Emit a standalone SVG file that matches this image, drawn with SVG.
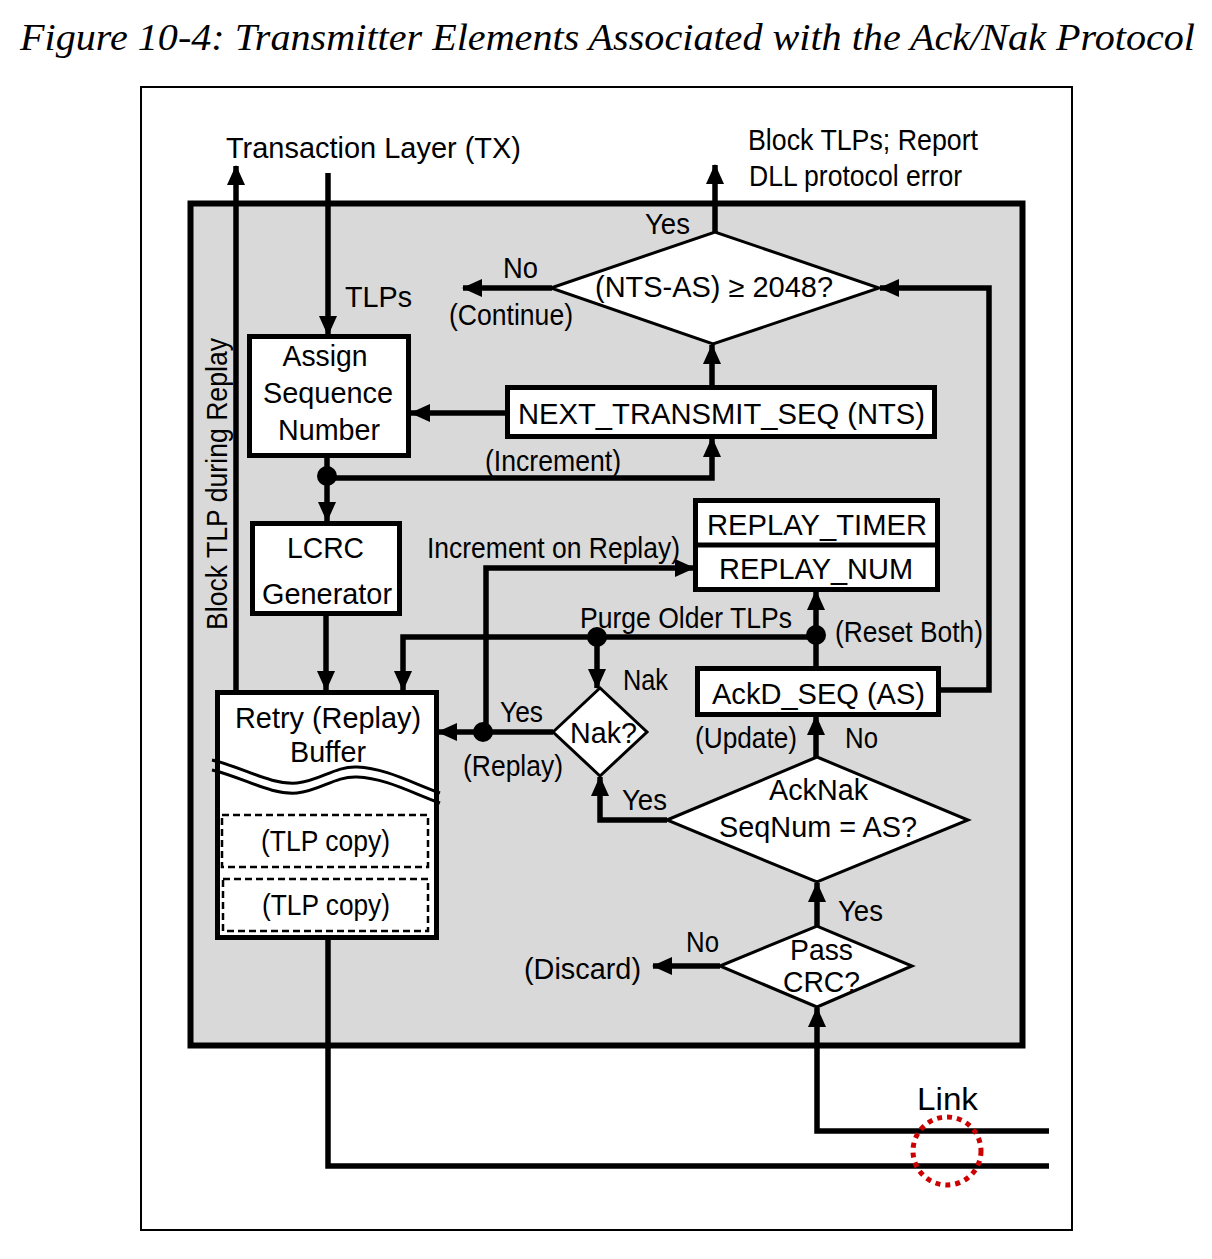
<svg xmlns="http://www.w3.org/2000/svg" width="1212" height="1259" viewBox="0 0 1212 1259">
<style>
text{font-family:"Liberation Sans",Arial,sans-serif;font-size:29px;fill:#000}
.title{font-family:"Liberation Serif","Times New Roman",serif;font-style:italic;font-size:37px}
.link{font-size:32px}
.box{fill:#fff;stroke:#000;stroke-width:5}
.dia{fill:#fff;stroke:#000;stroke-width:3}
.dash{fill:none;stroke:#000;stroke-width:2.5;stroke-dasharray:7 4}
.wave{fill:none;stroke:#000;stroke-width:3}
.c{fill:none;stroke:#000;stroke-width:5.5}
.a{marker-end:url(#ah)}
.mid{text-anchor:middle}
</style>
<defs>
<marker id="ah" markerUnits="userSpaceOnUse" markerWidth="20" markerHeight="18" refX="19" refY="9" orient="auto">
<path d="M0,0 L20,9 L0,18 z" fill="#000"/>
</marker>
</defs>
<rect width="1212" height="1259" fill="#fff"/>
<text class="title" x="20" y="50" textLength="1175" lengthAdjust="spacingAndGlyphs">Figure 10-4: Transmitter Elements Associated with the Ack/Nak Protocol</text>
<rect x="141" y="87" width="931" height="1143" fill="none" stroke="#000" stroke-width="2"/>
<rect id="dll" x="190.5" y="203.5" width="832" height="842" fill="#d9d9d9" stroke="#000" stroke-width="6"/>

<g id="labels">
<text x="226" y="158" textLength="295" lengthAdjust="spacingAndGlyphs">Transaction Layer (TX)</text>
<text x="748" y="150" textLength="230" lengthAdjust="spacingAndGlyphs">Block TLPs; Report</text>
<text x="749" y="186" textLength="213" lengthAdjust="spacingAndGlyphs">DLL protocol error</text>
<text x="645" y="234" textLength="45" lengthAdjust="spacingAndGlyphs">Yes</text>
<text x="503" y="278" textLength="35" lengthAdjust="spacingAndGlyphs">No</text>
<text x="449" y="325" textLength="124" lengthAdjust="spacingAndGlyphs">(Continue)</text>
<text x="345" y="307" textLength="67" lengthAdjust="spacingAndGlyphs">TLPs</text>
<text x="485" y="471" textLength="136" lengthAdjust="spacingAndGlyphs">(Increment)</text>
<text transform="translate(227,630) rotate(-90)" textLength="292" lengthAdjust="spacingAndGlyphs">Block TLP during Replay</text>
<text x="427" y="558" textLength="253" lengthAdjust="spacingAndGlyphs">Increment on Replay)</text>
<text x="580" y="628" textLength="212" lengthAdjust="spacingAndGlyphs">Purge Older TLPs</text>
<text x="835" y="642" textLength="148" lengthAdjust="spacingAndGlyphs">(Reset Both)</text>
<text x="623" y="690" textLength="45" lengthAdjust="spacingAndGlyphs">Nak</text>
<text x="500" y="722" textLength="43" lengthAdjust="spacingAndGlyphs">Yes</text>
<text x="463" y="776" textLength="100" lengthAdjust="spacingAndGlyphs">(Replay)</text>
<text x="695" y="748" textLength="102" lengthAdjust="spacingAndGlyphs">(Update)</text>
<text x="845" y="748" textLength="33" lengthAdjust="spacingAndGlyphs">No</text>
<text x="622" y="810" textLength="45" lengthAdjust="spacingAndGlyphs">Yes</text>
<text x="838" y="921" textLength="45" lengthAdjust="spacingAndGlyphs">Yes</text>
<text x="686" y="952" textLength="33" lengthAdjust="spacingAndGlyphs">No</text>
<text x="524" y="979" textLength="117" lengthAdjust="spacingAndGlyphs">(Discard)</text>
<text class="link" x="917" y="1110" textLength="61" lengthAdjust="spacingAndGlyphs">Link</text>
</g>

<g id="connectors">
<path class="c a" d="M236,692 V166"/>
<path class="c a" d="M328,173 V335"/>
<path class="c a" d="M506,413 H411"/>
<path class="c a" d="M712,386 V345"/>
<path class="c a" d="M715,233 V165"/>
<path class="c a" d="M552,288 H463"/>
<path class="c a" d="M938,690 H989 V288 H880"/>
<path class="c a" d="M327,456 V521"/>
<path class="c a" d="M327,478 H712 V438"/>
<path class="c a" d="M326,614 V690"/>
<path class="c a" d="M816,637 H403 V690"/>
<path class="c a" d="M597,637 V688"/>
<path class="c a" d="M816,667 V591"/>
<path class="c a" d="M553,732 H438"/>
<path class="c a" d="M486,732 V568 H694"/>
<path class="c a" d="M816,757 V716"/>
<path class="c a" d="M667,820 H600 V777"/>
<path class="c a" d="M817,926 V883"/>
<path class="c a" d="M720,966 H653"/>
<path class="c a" d="M1049,1131 H817 V1008"/>
<path class="c" d="M328,938 V1166 H1049"/>
<circle cx="327" cy="476" r="10"/>
<circle cx="597" cy="637" r="10"/>
<circle cx="816" cy="635" r="10"/>
<circle cx="483" cy="732" r="10"/>
</g>

<g id="assign">
<rect class="box" x="249.5" y="336.5" width="159" height="119"/>
<text class="mid" x="325" y="366" textLength="85" lengthAdjust="spacingAndGlyphs">Assign</text>
<text class="mid" x="328" y="403" textLength="130" lengthAdjust="spacingAndGlyphs">Sequence</text>
<text class="mid" x="329" y="440" textLength="102" lengthAdjust="spacingAndGlyphs">Number</text>
</g>

<g id="nts">
<rect class="box" x="507.5" y="387.5" width="427" height="49"/>
<text x="518" y="424" textLength="407" lengthAdjust="spacingAndGlyphs">NEXT_TRANSMIT_SEQ (NTS)</text>
</g>

<g id="check2048">
<polygon class="dia" points="551,288 715,232 879,288 713,344"/>
<text x="595" y="297" textLength="238" lengthAdjust="spacingAndGlyphs">(NTS-AS) ≥ 2048?</text>
</g>

<g id="lcrc">
<rect class="box" x="252.5" y="523.5" width="147" height="90"/>
<text class="mid" x="325.5" y="558" textLength="77" lengthAdjust="spacingAndGlyphs">LCRC</text>
<text class="mid" x="327" y="604" textLength="130" lengthAdjust="spacingAndGlyphs">Generator</text>
</g>

<g id="replay">
<rect class="box" x="695.5" y="500.5" width="242" height="89"/>
<line x1="695" y1="545" x2="938" y2="545" stroke="#000" stroke-width="5"/>
<text class="mid" x="817" y="535" textLength="220" lengthAdjust="spacingAndGlyphs">REPLAY_TIMER</text>
<text class="mid" x="816" y="579" textLength="194" lengthAdjust="spacingAndGlyphs">REPLAY_NUM</text>
</g>

<g id="ackd">
<rect class="box" x="697.5" y="668.5" width="241" height="46"/>
<text x="712" y="704" textLength="213" lengthAdjust="spacingAndGlyphs">AckD_SEQ (AS)</text>
</g>

<g id="nak">
<polygon class="dia" points="553,732 600,688 647,732 600,776"/>
<text x="570" y="743" textLength="67" lengthAdjust="spacingAndGlyphs">Nak?</text>
</g>

<g id="acknak">
<polygon class="dia" points="667,820 817,757 968,820 817,882"/>
<text class="mid" x="818.5" y="800" textLength="99" lengthAdjust="spacingAndGlyphs">AckNak</text>
<text class="mid" x="818" y="837" textLength="198" lengthAdjust="spacingAndGlyphs">SeqNum = AS?</text>
</g>

<g id="passcrc">
<polygon class="dia" points="720,966 817,926 912,966 817,1007"/>
<text class="mid" x="821.5" y="960" textLength="63" lengthAdjust="spacingAndGlyphs">Pass</text>
<text class="mid" x="821.5" y="992" textLength="77" lengthAdjust="spacingAndGlyphs">CRC?</text>
</g>

<g id="retry">
<rect class="box" x="217.5" y="692.5" width="219" height="245"/>
<text class="mid" x="328" y="728" textLength="186" lengthAdjust="spacingAndGlyphs">Retry (Replay)</text>
<text class="mid" x="328" y="762" textLength="76" lengthAdjust="spacingAndGlyphs">Buffer</text>
<path class="wave" d="M212,760 C245,768 270,785 297,783 C320,781 335,766 357,767 C385,768 410,782 440,793"/>
<path class="wave" d="M212,770 C245,778 270,795 297,793 C320,791 335,776 357,777 C385,778 410,792 440,803"/>
<rect class="dash" x="222" y="815" width="206" height="52"/>
<text class="mid" x="325.5" y="851" textLength="129" lengthAdjust="spacingAndGlyphs">(TLP copy)</text>
<rect class="dash" x="223" y="879" width="205" height="52"/>
<text class="mid" x="326" y="915" textLength="128" lengthAdjust="spacingAndGlyphs">(TLP copy)</text>
</g>

<g id="link">
<ellipse cx="947" cy="1151" rx="34" ry="34" fill="none" stroke="#cc0000" stroke-width="5" stroke-dasharray="5 5"/>
</g>
</svg>
